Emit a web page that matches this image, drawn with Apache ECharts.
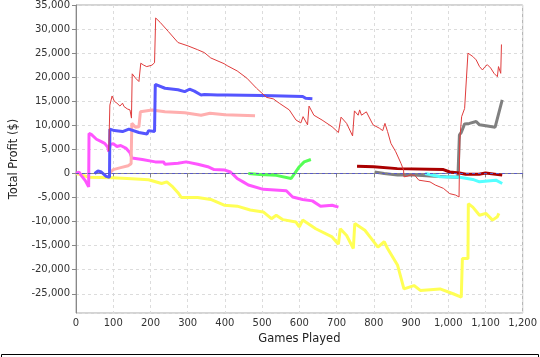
<!DOCTYPE html>
<html><head><meta charset="utf-8">
<script src="https://cdn.jsdelivr.net/npm/echarts@6/dist/echarts.min.js"></script>
<style>html,body{margin:0;padding:0;background:#fff}#c{width:540px;height:357px}</style>
</head><body><div id="c"></div>
<script>
const xTitle = 'Games Played';
const yTitle = 'Total Profit ($)';
const yellow = [[0,0],[15,-300],[35,-800],[98,-900],[150,-1100],[195,-1300],[230,-2100],[244,-1750],[260,-2800],[274,-4000],[283,-5000],[327,-5000],[362,-5400],[398,-6600],[433,-6800],[468,-7600],[503,-8000],[525,-9400],[538,-8700],[556,-9600],[591,-10100],[600,-11100],[609,-9700],[644,-11500],[688,-13200],[705,-14700],[710,-11500],[727,-12900],[745,-15600],[749,-10400],[776,-11800],[793,-13500],[811,-15300],[828,-14200],[837,-15600],[864,-19100],[881,-24000],[908,-23300],[925,-24300],[978,-24000],[1013,-25000],[1035,-25700],[1038,-17700],[1053,-17700],[1054,-6300],[1066,-7000],[1084,-8700],[1101,-8300],[1119,-9700],[1132,-9000],[1136,-8300]];
const magenta = [[0,0],[8,300],[15,-500],[25,-1500],[34,-2800],[35,8300],[41,8100],[55,7100],[68,6600],[77,6250],[85,5500],[88,4500],[92,6000],[100,6200],[110,5600],[120,5800],[135,5200],[145,4300],[150,3200],[178,2900],[213,2400],[235,2400],[239,1900],[274,2100],[296,2400],[327,1900],[354,1400],[371,800],[400,700],[415,300],[424,-350],[433,-1050],[450,-1800],[463,-2400],[503,-3300],[565,-3600],[582,-4900],[609,-5400],[635,-5700],[657,-6800],[688,-6600],[705,-7000]];
const pink = [[92,200],[100,800],[120,1200],[140,1600],[148,2000],[150,10400],[160,9600],[169,9700],[173,12800],[204,13200],[239,12800],[292,12600],[336,12100],[360,12500],[400,12200],[481,12000]];
const blue = [[50,0],[59,500],[68,300],[81,-600],[90,-800],[91,9200],[103,8900],[125,8700],[142,9200],[169,8500],[191,8200],[195,8900],[211,8700],[213,18500],[239,17700],[274,17400],[292,17000],[305,17500],[318,17100],[336,16300],[345,16400],[380,16300],[406,16300],[500,16200],[609,16000],[617,15600],[635,15500]];
const green = [[463,0],[494,-200],[538,-400],[578,-1050],[600,1400],[613,2400],[631,2900]];
const gray = [[802,300],[828,0],[864,-350],[908,-350],[952,-550],[995,-700],[1026,-800],[1029,-700],[1030,8000],[1035,8500],[1044,10300],[1057,10400],[1075,10800],[1084,10100],[1101,9900],[1126,9600],[1145,15300]];
const cyan = [[938,0],[978,-700],[1031,-800],[1066,-1250],[1084,-1750],[1128,-1400],[1145,-2100]];
const darkred = [[755,1500],[800,1400],[863,1000],[987,800],[1004,300],[1030,100],[1047,-150],[1083,-150],[1100,100],[1145,-350]];
const red = [[88,4600],[91,14200],[97,16100],[103,15000],[110,14600],[118,14000],[125,14600],[129,13900],[138,13400],[145,13200],[149,11500],[151,20700],[160,19800],[169,19100],[174,22900],[182,22500],[190,22200],[204,22500],[211,23000],[214,32300],[226,31400],[248,29500],[274,27200],[301,26500],[327,25700],[345,25100],[362,24000],[398,22800],[406,22400],[433,21300],[459,19800],[485,17700],[512,15800],[530,15500],[546,14600],[573,13200],[591,11100],[604,10500],[610,11800],[622,10100],[626,14000],[639,12100],[661,11100],[688,9700],[705,8500],[712,11700],[727,10400],[743,7800],[748,13000],[758,12100],[762,13200],[767,12100],[780,12800],[798,10100],[815,9400],[824,8900],[830,10400],[837,8700],[846,6250],[859,4500],[873,2100],[880,700],[881,-700],[889,-600],[900,-300],[910,-400],[921,-1400],[951,-1750],[965,-2400],[987,-3100],[1004,-4200],[1020,-4500],[1029,-4900],[1031,7000],[1036,11800],[1044,13500],[1048,13900],[1053,25000],[1057,25300],[1066,24300],[1075,23600],[1084,22200],[1092,21500],[1099,22200],[1105,22600],[1114,21900],[1123,20800],[1132,20100],[1135,22200],[1141,20800],[1143,26800]];

const seriesDefs = [
  {data: yellow, color: '#ffff55', w: 3},
  {data: magenta, color: '#ff55ff', w: 3},
  {data: pink, color: '#ffafaf', w: 3},
  {data: blue, color: '#5555ff', w: 3},
  {data: green, color: '#55ff55', w: 3},
  {data: gray, color: '#808080', w: 3},
  {data: cyan, color: '#55ffff', w: 3},
  {data: darkred, color: '#aa0000', w: 3},
  {data: red, color: '#e03c3c', w: 1}
];
const font = 'DejaVu Sans';
const chart = echarts.init(document.getElementById('c'), null, {renderer: 'canvas'});
const series = seriesDefs.map(d => ({
  type: 'line', data: d.data, showSymbol: false, symbol: 'none', animation: false,
  lineStyle: {color: d.color, width: d.w}, z: 3
}));
series[0].markLine = {
  silent: true, symbol: 'none', label: {show: false}, animation: false,
  lineStyle: {color: '#5a5ac8', type: [3, 3], width: 1},
  data: [{yAxis: 0}]
};
chart.setOption({
  backgroundColor: '#fff',
  animation: false,
  grid: {left: 76, right: 9, top: 5, bottom: 44, show: true, borderColor: '#a8a8a8', borderWidth: 1, backgroundColor: '#fff'},
  xAxis: {
    type: 'value', min: 0, max: 1200, interval: 100,
    name: xTitle, nameLocation: 'middle', nameGap: 18,
    nameTextStyle: {fontFamily: font, fontSize: 11.5, color: '#222'},
    axisLine: {show: true, lineStyle: {color: '#888'}},
    axisTick: {show: true, inside: false, length: 4, lineStyle: {color: '#888'}},
    axisLabel: {fontFamily: font, fontSize: 10, color: '#333', margin: 5,
      formatter: v => v.toLocaleString('en-US')},
    splitLine: {show: true, lineStyle: {color: '#dcdcdc', type: [3, 3], width: 1}}
  },
  yAxis: {
    type: 'value', min: -29000, max: 35000, splitNumber: 12,
    name: yTitle, nameLocation: 'middle', nameGap: 51,
    nameTextStyle: {fontFamily: font, fontSize: 11.5, color: '#222'},
    axisLine: {show: true, lineStyle: {color: '#888'}},
    axisTick: {show: true, inside: false, length: 4, lineStyle: {color: '#888'}},
    axisLabel: {fontFamily: font, fontSize: 10, color: '#333', margin: 6,
      showMinLabel: false,
      formatter: v => (v % 5000 === 0 ? v.toLocaleString('en-US') : '')},
    splitLine: {show: true, lineStyle: {color: '#dcdcdc', type: [3, 3], width: 1}}
  },
  graphic: [{
    type: 'rect', shape: {x: 1.5, y: 354.5, width: 537, height: 20},
    style: {fill: 'none', stroke: '#000', lineWidth: 1}, silent: true, z: 100
  }],
  series: series
});
</script></body></html>
